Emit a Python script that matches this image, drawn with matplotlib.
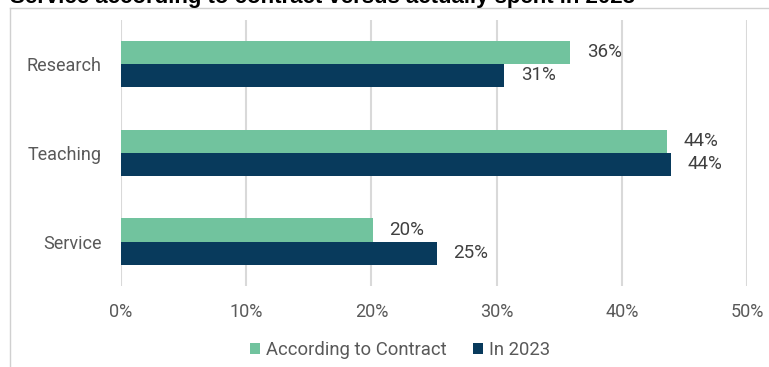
import matplotlib.pyplot as plt
from matplotlib.lines import Line2D
import numpy as np

plt.rcParams['font.family'] = ['Roboto', 'DejaVu Sans']

categories = ['Research', 'Teaching', 'Service']
contract = [35.9, 43.6, 20.1]
in_2023 = [30.6, 43.9, 25.2]
xticks = [0, 10, 20, 30, 40, 50]

green = '#71C39E'
navy = '#083A5C'
grid_col = '#D9D9D9'
text_col = '#595959'

fig = plt.figure(figsize=(7.69, 3.67), dpi=100)
ax = fig.add_axes([121 / 769, 81 / 367, 626 / 769, 266.5 / 367])

y = np.arange(len(categories))[::-1]
h = 0.26
ax.barh(y + h / 2, contract, height=h, color=green, label='According to Contract', zorder=3)
ax.barh(y - h / 2, in_2023, height=h, color=navy, label='In 2023', zorder=3)

for yi, v in zip(y, contract):
    ax.annotate(f'{v:.0f}%', (v, yi + h / 2), xytext=(12, 0), textcoords='offset points',
                va='center', ha='left', fontsize=13.5, color='#404040')
for yi, v in zip(y, in_2023):
    ax.annotate(f'{v:.0f}%', (v, yi - h / 2), xytext=(12, 0), textcoords='offset points',
                va='center', ha='left', fontsize=13.5, color='#404040')

ax.set_xlim(0, 50)
ax.set_ylim(-0.5, 2.5)
ax.set_xticks(xticks)
ax.set_xticklabels([f'{t}%' for t in xticks])
ax.set_yticks(y)
ax.set_yticklabels(categories)
ax.tick_params(axis='both', length=0, labelsize=13, labelcolor=text_col)
ax.tick_params(axis='x', pad=12)
ax.tick_params(axis='y', pad=14)
ax.grid(axis='x', color=grid_col, linewidth=1.5, zorder=0)
for s in ax.spines.values():
    s.set_visible(False)

# outer chart frame (left and top edges)
fig.add_artist(Line2D([9.5 / 769, 9.5 / 769], [0, 1 - 7.5 / 367], color='#D0D0D0', lw=1))
fig.add_artist(Line2D([9.5 / 769, 1], [1 - 7.5 / 367, 1 - 7.5 / 367], color='#D0D0D0', lw=1))

fig.text(10 / 769, 1 - 3 / 367, 'Service according to contract versus actually spent in 2023',
         family=['Liberation Sans', 'DejaVu Sans'], fontweight='bold', fontsize=16,
         color='black', ha='left', va='baseline', zorder=5)

fig.legend(loc='center', bbox_to_anchor=(400 / 769, 17 / 367), ncol=2, frameon=False,
           fontsize=13.3, labelcolor=text_col, handlelength=0.55, handleheight=0.55,
           handletextpad=0.3, columnspacing=1.45)

fig.savefig('out.png', dpi=100)
